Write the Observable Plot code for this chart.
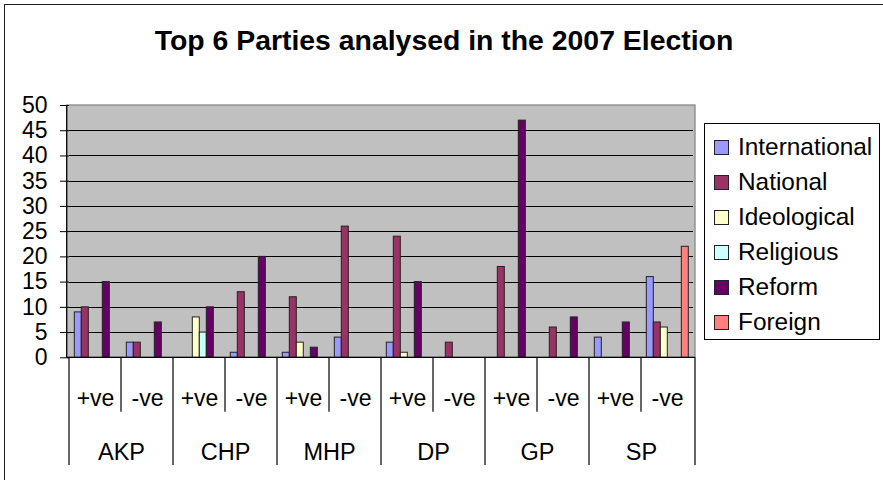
<!DOCTYPE html>
<html>
<head>
<meta charset="utf-8">
<script src="https://cdn.jsdelivr.net/npm/d3@7"></script>
<script src="https://cdn.jsdelivr.net/npm/@observablehq/plot@0.6"></script>
<style>
  html, body { margin: 0; padding: 0; background: #fff; overflow: hidden; }
  #wrap { position: relative; width: 883px; height: 480px; overflow: hidden; font-family: "Liberation Sans", Arial, sans-serif; color: #000; }
  #border { position: absolute; left: 3.5px; top: 3.5px; width: 920px; height: 520px; border: 1.5px solid #222; box-sizing: border-box; }
  #title { position: absolute; left: 0; top: 25.6px; width: 888px; text-align: center; font-weight: bold; font-size: 28.4px; line-height: 28.5px; white-space: nowrap; }
  #chart { position: absolute; left: 0; top: 0; }
  #legend { position: absolute; left: 704px; top: 122.7px; width: 176px; height: 217px; border: 1px solid #000; box-sizing: border-box; background: #fff; padding-top: 6px; }
  .item { height: 35px; display: flex; align-items: center; font-size: 24.4px; white-space: nowrap; }
  .sw { width: 15px; height: 15px; border: 1px solid #222; margin-left: 9px; margin-right: 9px; box-sizing: border-box; flex: none; }
</style>
</head>
<body>
<div id="wrap">
  <div id="border"></div>
  <div id="title">Top 6 Parties analysed in the 2007 Election</div>
  <div id="chart"></div>
  <div id="legend"></div>
</div>
<script>
const parties = ["AKP", "CHP", "MHP", "DP", "GP", "SP"];
const signs = ["+ve", "-ve"];
const series = ["International", "National", "Ideological", "Religious", "Reform", "Foreign"];
const colors = ["#9999FF", "#993366", "#FFFFCC", "#CCFFFF", "#660066", "#FF8080"];
const yTicks = [0, 5, 10, 15, 20, 25, 30, 35, 40, 45, 50];

// order: AKP+ AKP- CHP+ CHP- MHP+ MHP- DP+ DP- GP+ GP- SP+ SP-
const international = [9, 3, 0, 1, 1, 4, 3, 0, 0, 0, 4, 16];
const national      = [10, 3, 0, 13, 12, 26, 24, 3, 18, 6, 0, 7];
const ideological   = [0, 0, 8, 0, 3, 0, 1, 0, 0, 0, 0, 6];
const religious     = [0, 0, 5, 0, 0, 0, 0, 0, 0, 0, 0, 0];
const reform        = [15, 7, 10, 20, 2, 0, 15, 0, 47, 8, 7, 0];
const foreign       = [0, 0, 0, 0, 0, 0, 0, 0, 0, 0, 0, 22];

const seriesValues = [international, national, ideological, religious, reform, foreign];

const cats = [];
parties.forEach(p => signs.forEach(s => cats.push({party: p, sign: s, key: p + " " + s})));
const keys = cats.map(d => d.key);

const data = [];
cats.forEach((c, i) => series.forEach((s, j) => data.push({key: c.key, series: s, value: seriesValues[j][i]})));

const plot = Plot.plot({
  width: 883,
  height: 480,
  marginLeft: 66.7,
  marginRight: 188,
  marginTop: 105,
  marginBottom: 122.7,
  style: {fontFamily: "'Liberation Sans', Arial, sans-serif", fontSize: "23px", color: "#000", background: "transparent", overflow: "visible"},
  fx: {domain: keys, padding: 0, axis: null},
  x: {domain: series, paddingInner: 0, paddingOuter: 0.55, axis: null},
  y: {domain: [0, 50], ticks: yTicks, tickSize: 9, tickPadding: 13, label: null, tickFormat: d => String(d)},
  color: {domain: series, range: colors},
  marks: [
    Plot.ruleY(yTicks.filter(d => d > 0 && d < 50), {stroke: "#000", strokeWidth: 1, shapeRendering: "crispEdges"}),
    Plot.barY(data.filter(d => d.value > 0), {fx: "key", x: "series", y: "value", fill: "series", stroke: "#222", strokeWidth: 1}),
    Plot.text(cats, {fx: "key", text: "sign", frameAnchor: "bottom", lineAnchor: "bottom", dy: 48.4, fontSize: 23, fill: "#000"}),
    Plot.text(cats.filter(d => d.sign === "+ve"), {fx: "key", text: "party", frameAnchor: "bottom-right", textAnchor: "middle", lineAnchor: "bottom", dy: 101.7, fontSize: 23.5, fill: "#000"})
  ]
});
document.getElementById("chart").appendChild(plot);

// background, plot border and category separators from the library's scales
const fx = plot.scale("fx");
const ys = plot.scale("y");
const svg = d3.select(plot);
const x0 = fx.range[0], x1 = fx.range[1];
const yTop = ys.apply(50), yBot = ys.apply(0);
svg.insert("rect", "g")
  .attr("x", x0).attr("y", yTop).attr("width", x1 - x0).attr("height", yBot - yTop)
  .attr("fill", "#c0c0c0").attr("stroke", "#808080").attr("stroke-width", 1.2);
const deco = svg.append("g").attr("stroke", "#000").attr("stroke-width", 1.2);
deco.append("line").attr("x1", x0).attr("x2", x0).attr("y1", yTop).attr("y2", yBot);
deco.append("line").attr("x1", x0).attr("x2", x1).attr("y1", yBot).attr("y2", yBot);
keys.forEach((k, i) => {
  const bx = fx.apply(k);
  const len = i % 2 === 0 ? 107.7 : 54.4;
  deco.append("line").attr("x1", bx).attr("x2", bx).attr("y1", yBot).attr("y2", yBot + len);
});
deco.append("line").attr("x1", x1).attr("x2", x1).attr("y1", yBot).attr("y2", yBot + 107.7);

// legend
const legend = d3.select("#legend");
series.forEach((s, i) => {
  const it = legend.append("div").attr("class", "item");
  it.append("div").attr("class", "sw").style("background", colors[i]);
  it.append("span").text(s);
});
</script>
</body>
</html>
